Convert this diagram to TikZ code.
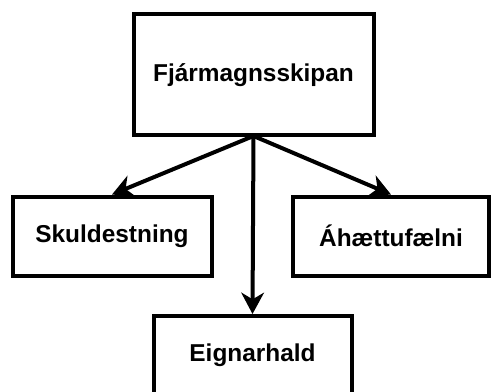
\documentclass[tikz,border=0pt]{standalone}
\usepackage{fontspec}
\setmainfont{Liberation Sans}
\usetikzlibrary{arrows.meta}
\begin{document}
\begin{tikzpicture}[x=0.75pt,y=-0.75pt,
  box/.style={draw=black, line width=3pt, fill=white, rectangle, inner sep=0pt,
    font=\fontsize{18.3pt}{21pt}\selectfont\bfseries},
  conn/.style={line width=3pt, -{Stealth[length=16pt,width=17pt,inset=5pt]}}]
\useasboundingbox (0,0) rectangle (492,392);
\node[box, minimum width=240*0.75pt, minimum height=121*0.75pt] (top) at (253.5,75) {Fjármagnsskipan};
\node[box, minimum width=199*0.75pt, minimum height=79*0.75pt] (left) at (112,236) {Skuldestning};
\node[box, minimum width=196*0.75pt, minimum height=79*0.75pt] (right) at (391,236) {Áhættufælni};
\node[box, minimum width=198*0.75pt, minimum height=79*0.75pt] (bot) at (252.5,355.5) {Eignarhald};
\coordinate (src) at (253.5,136);
\draw[conn] (src) -- (left.north);
\draw[conn] (src) -- (right.north);
\draw[conn] (src) -- (bot.north);
\end{tikzpicture}
\end{document}
